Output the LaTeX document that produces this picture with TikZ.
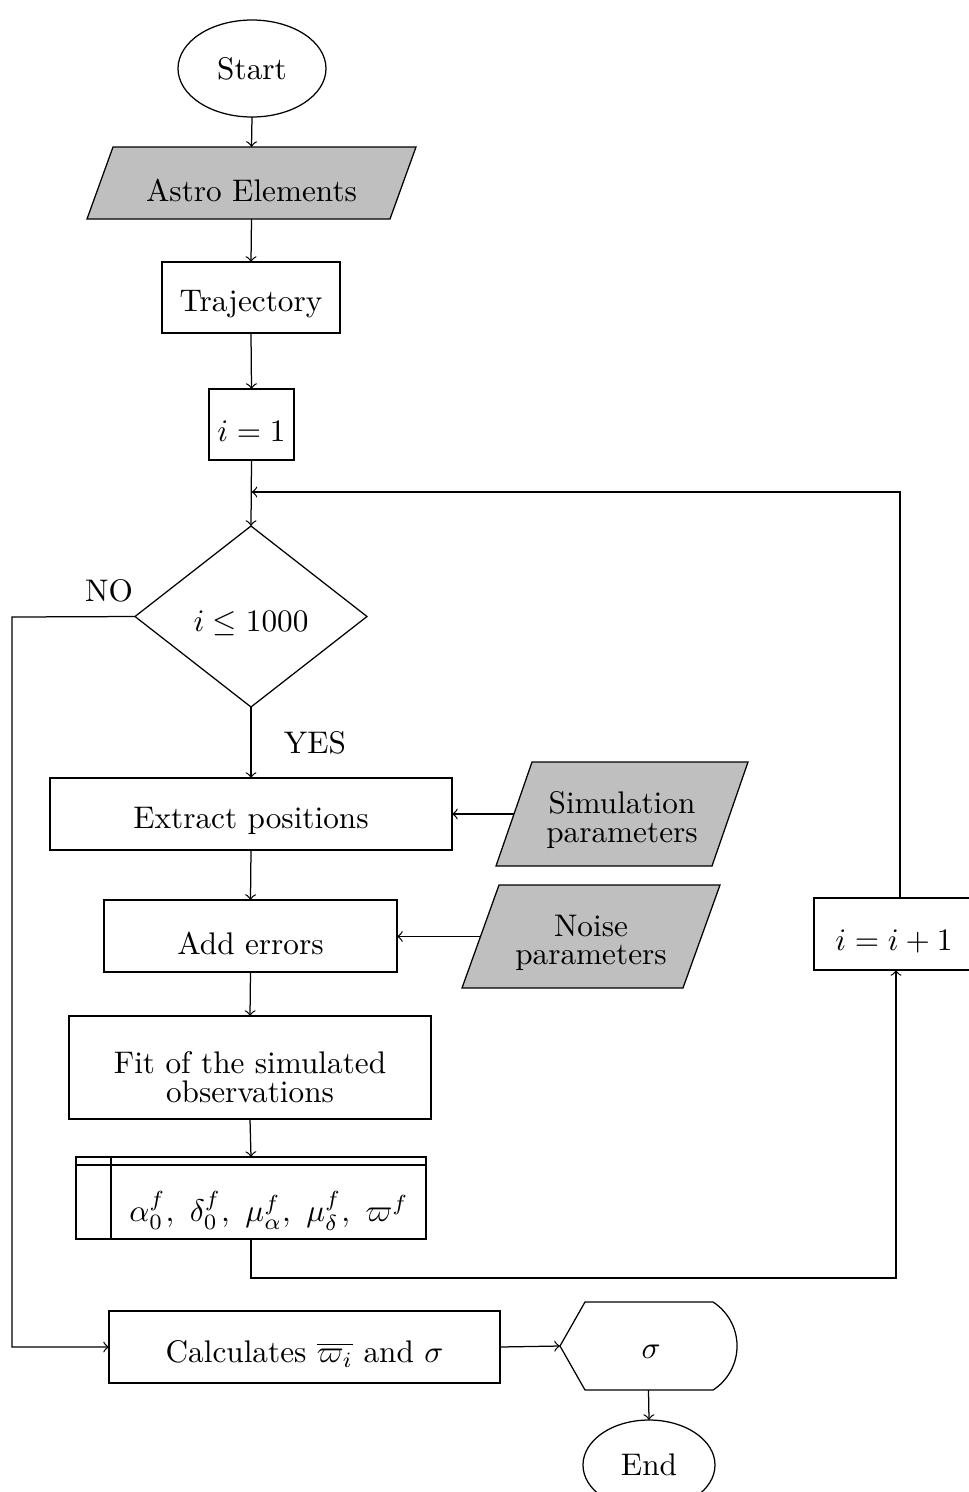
\documentclass[tikz,border=0pt]{standalone}
\usetikzlibrary{shapes.geometric,calc}
\begin{document}
\begin{tikzpicture}[x=0.32pt,y=-0.32pt,
  every node/.style={inner sep=0pt,outer sep=0pt},
  txt/.style={font=\fontsize{10}{9.1}\selectfont,align=center},
  box/.style={draw,rectangle},
  iobody/.style={rectangle},
  iofill/.style={draw,fill=gray!50},
  term/.style={draw,ellipse},
  conn/.style={->}]
\useasboundingbox (0,0) rectangle (969,1492);
% shapes
\node[term,minimum width=47.36pt,minimum height=31.04pt] (start) at (252,68.5) {};
\node[iobody,minimum width=96.96pt,minimum height=23.04pt] (astro) at (251.5,183) {};
\path[iofill] ($(astro.north west)+(13,0)$) -- ($(astro.north east)+(13,0)$) -- ($(astro.south east)+(-13,0)$) -- ($(astro.south west)+(-13,0)$) -- cycle;
\node[box,minimum width=56.96pt,minimum height=22.72pt] (traj) at (251,297.5) {};
\node[box,minimum width=27.2pt,minimum height=22.72pt] (init) at (251.5,424.5) {};
\node[draw,diamond,minimum width=74.24pt,minimum height=57.92pt] (dia) at (251,616.5) {};
\node[box,minimum width=128.64pt,minimum height=23.04pt] (extract) at (251,814) {};
\node[iobody,minimum width=69.12pt,minimum height=33.28pt] (sim) at (622,814) {};
\path[iofill] ($(sim.north west)+(18,0)$) -- ($(sim.north east)+(18,0)$) -- ($(sim.south east)+(-18,0)$) -- ($(sim.south west)+(-18,0)$) -- cycle;
\node[box,minimum width=93.76pt,minimum height=23.04pt] (adderr) at (250.5,936) {};
\node[iobody,minimum width=70.72pt,minimum height=32.96pt] (noise) at (591,936.5) {};
\path[iofill] ($(noise.north west)+(18.5,0)$) -- ($(noise.north east)+(18.5,0)$) -- ($(noise.south east)+(-18.5,0)$) -- ($(noise.south west)+(-18.5,0)$) -- cycle;
\node[box,minimum width=115.84pt,minimum height=32.96pt] (fit) at (250,1067.5) {};
\node[box,minimum width=112pt,minimum height=26.24pt] (mem) at (251,1198) {};
\draw (76,1165) -- (426,1165) (111,1157) -- (111,1239);
\node[box,minimum width=52.48pt,minimum height=23.04pt] (incr) at (896,934) {};
\node[box,minimum width=125.12pt,minimum height=23.04pt] (calcb) at (304.5,1347) {};
\node[minimum width=56.64pt,minimum height=28.16pt] (disp) at (648.5,1346) {};
\draw (560,1346) -- (585,1302) -- (713,1302) arc[start angle=-57.3,end angle=57.3,radius=52.3] -- (585,1390) -- cycle;
\node[term,minimum width=42.24pt,minimum height=28.8pt] (end) at (649,1465) {};
% texts
\node[txt] (start-t) at (252,68.5) {Start};
\node[txt] (astro-t) at (251.5,190) {Astro Elements};
\node[txt] (traj-t) at (251,304) {Trajectory};
\node[txt] (init-t) at (251.5,431) {$i=1$};
\node[txt] (dia-t) at (251,623) {$i\leq 1000$};
\node[txt] (extract-t) at (251,821) {Extract positions};
\node[txt] (sim-t) at (622,820) {Simulation\\parameters};
\node[txt] (adderr-t) at (250.5,943) {Add errors};
\node[txt] (noise-t) at (591,943) {Noise\\parameters};
\node[txt] (fit-t) at (250,1077) {Fit of the simulated\\observations};
\node[txt] (mem-t) at (269,1211) {$\alpha_0^f,\ \delta_0^f,\ \mu_\alpha^f,\ \mu_\delta^f,\ \varpi^f$};
\node[txt] (incr-t) at (894,941) {$i=i+1$};
\node[txt] (calcb-t) at (304.5,1354) {Calculates $\overline{\varpi_i}$ and $\sigma$};
\node[txt] (disp-t) at (651,1352) {$\sigma$};
\node[txt] (end-t) at (649,1465) {End};
\node[txt] (no) at (109,591) {NO};
\node[txt] (yes) at (315,743) {YES};
% connectors
\coordinate (loop) at (251.5,492);
\coordinate (nocorner) at (12,617);
\coordinate (memcorner) at (251,1278);
\draw[conn] (start.south) -- (astro.north);
\draw[conn] (astro.south) -- (traj.north);
\draw[conn] (traj.south) -- (init.north);
\draw[conn] (init.south) -- (dia.north);
\draw[conn] ($(incr.north)+(4,0)$) |- (loop);
\draw[conn] (dia.west) -- (nocorner) |- (calcb.west);
\draw[conn] (dia.south) -- (extract.north);
\draw[conn] (sim.west) -- (sim.west -| extract.east);
\draw[conn] (extract.south) -- (adderr.north);
\draw[conn] (noise.west) -- (noise.west -| adderr.east);
\draw[conn] (adderr.south) -- (fit.north);
\draw[conn] (fit.south) -- (mem.north);
\draw[conn] (mem.south) -- (memcorner) -| (incr.south);
\draw[conn] (calcb.east) -- (disp.west);
\draw[conn] (disp.south) -- (end.north);
\end{tikzpicture}
\end{document}
